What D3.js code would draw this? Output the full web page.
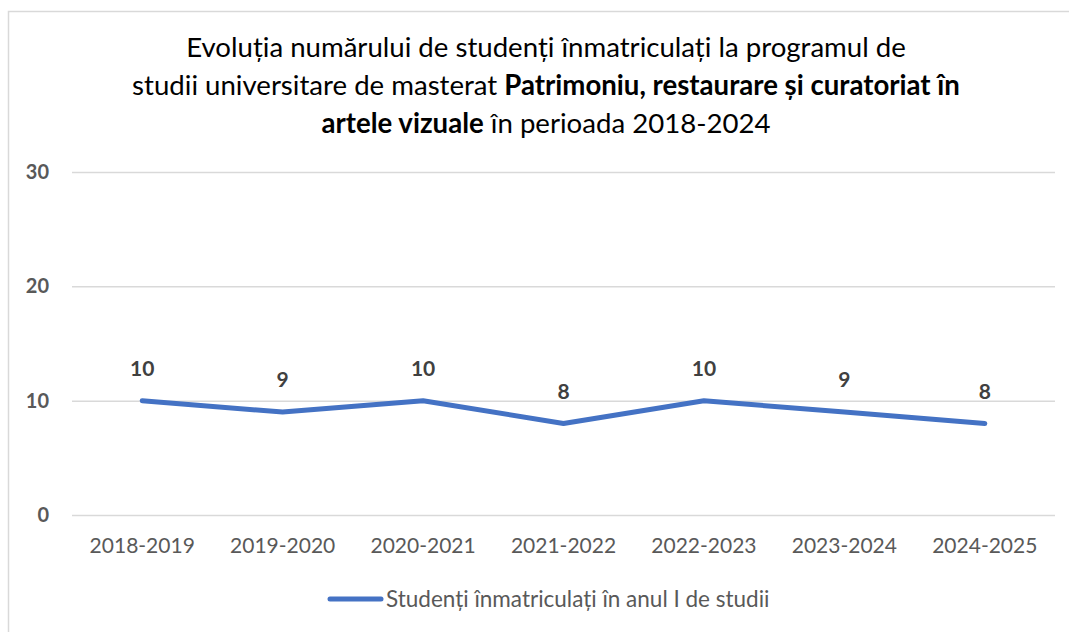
<!DOCTYPE html>
<html><head><meta charset="utf-8">
<script src="https://cdn.jsdelivr.net/npm/d3@7"></script>
<style>body{margin:0;background:#fff}svg{display:block}</style>
</head><body>
<script>
const categories = ["2018-2019","2019-2020","2020-2021","2021-2022","2022-2023","2023-2024","2024-2025"];
const values = [10, 9, 10, 8, 10, 9, 8];
const yTicks = [0, 10, 20, 30];
const seriesName = "Studenți înmatriculați în anul I de studii";

const W = 1069, H = 632;
const svg = d3.select("body").append("svg").attr("width", W).attr("height", H);
const font = "Lato, 'Open Sans', sans-serif";

svg.append("rect").attr("x", 8.5).attr("y", 11.5).attr("width", W + 10).attr("height", H + 10)
  .attr("fill", "#fff").attr("stroke", "#d9d9d9").attr("stroke-width", 1.5);

// title
const title = svg.append("text").attr("text-anchor", "middle").attr("font-family", font)
  .attr("font-size", 27.6).attr("fill", "#000");
title.append("tspan").attr("x", 546).attr("y", 57).text("Evoluția numărului de studenți înmatriculați la programul de");
const l2 = title.append("tspan").attr("x", 546).attr("y", 95);
l2.append("tspan").text("studii universitare de masterat ");
l2.append("tspan").attr("font-weight", "bold").text("Patrimoniu, restaurare și curatoriat în");
const l3 = title.append("tspan").attr("x", 546).attr("y", 133);
l3.append("tspan").attr("font-weight", "bold").text("artele vizuale");
l3.append("tspan").text(" în perioada 2018-2024");

const x = d3.scaleBand().domain(categories).range([72, 1055]);
const y = d3.scaleLinear().domain([0, 30]).range([515, 172]);

const yAxis = svg.append("g").attr("transform", "translate(72,0)")
  .call(d3.axisLeft(y).tickValues(yTicks).tickSize(-983).tickPadding(23));
yAxis.select(".domain").remove();
yAxis.selectAll("line").attr("stroke", "#d9d9d9").attr("stroke-width", 1.5);
yAxis.selectAll("text").attr("font-family", font).attr("font-size", 20).attr("font-weight", "bold")
  .attr("fill", "#595959");

const xAxis = svg.append("g").attr("transform", "translate(0,515)")
  .call(d3.axisBottom(x).tickSize(0).tickPadding(23));
xAxis.select(".domain").remove();
xAxis.selectAll("text").attr("font-family", font).attr("font-size", 21).attr("fill", "#595959");

const cx = d => x(d) + x.bandwidth() / 2;
const line = d3.line().x((d, i) => cx(categories[i])).y(d => y(d));
svg.append("path").datum(values).attr("d", line).attr("fill", "none")
  .attr("stroke", "#4472C4").attr("stroke-width", 5).attr("stroke-linecap", "round")
  .attr("stroke-linejoin", "round");

svg.selectAll(".lbl").data(values).enter().append("text")
  .attr("x", (d, i) => cx(categories[i])).attr("y", d => y(d) - 25)
  .attr("text-anchor", "middle").attr("font-family", font).attr("font-size", 21)
  .attr("font-weight", "bold").attr("fill", "#404040").text(d => d);

// legend
svg.append("line").attr("x1", 330).attr("x2", 381).attr("y1", 599).attr("y2", 599)
  .attr("stroke", "#4472C4").attr("stroke-width", 5).attr("stroke-linecap", "round");
svg.append("text").attr("x", 386).attr("y", 607).attr("font-family", font).attr("font-size", 22.5)
  .attr("fill", "#595959").text(seriesName);
</script>
</body></html>
